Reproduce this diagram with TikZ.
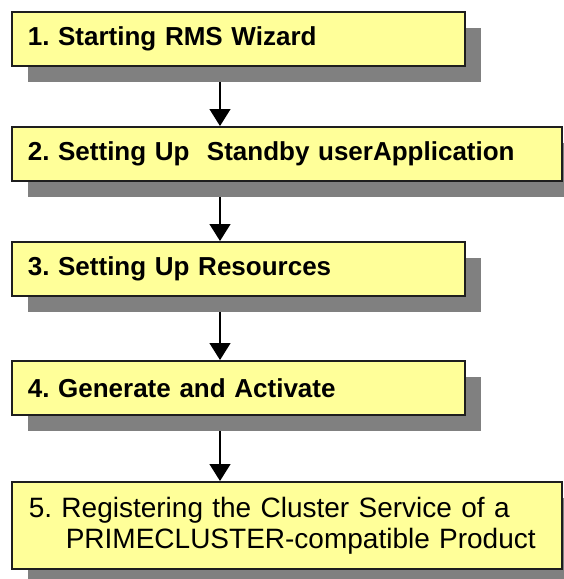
\documentclass[tikz,border=0pt]{standalone}
\usepackage{fontspec}
\setmainfont{Liberation Sans}
\usetikzlibrary{arrows.meta,shadows,backgrounds}
\definecolor{boxfill}{RGB}{255,255,153}
\definecolor{shadowgray}{RGB}{128,128,128}
\definecolor{boxline}{RGB}{30,30,30}
\frenchspacing
\tikzset{
  stepbox/.style={draw=boxline, line width=1.6pt, fill=boxfill, anchor=north west,
    rectangle, inner xsep=16pt, inner ysep=0pt, align=left,
    minimum height=54pt,
    drop shadow={shadow xshift=16pt, shadow yshift=-16pt, fill=shadowgray, opacity=1},
    font=\fontsize{26}{30}\selectfont\bfseries},
  narrowbox/.style={stepbox, minimum width=453pt, text width=421pt},
  widebox/.style={stepbox, minimum width=550pt, text width=518pt},
  flowarrow/.style={draw=black, line width=1.3pt, -{Triangle[length=17pt,width=21pt]}}
}
\begin{document}
\begin{tikzpicture}[x=1pt,y=-1pt]
\useasboundingbox (0,0) rectangle (564,579);
\node[narrowbox] (b1) at (11,11) {1. Starting RMS Wizard};
\node[widebox] (b2) at (11,126) {2. Setting Up\ \ Standby userApplication};
\node[narrowbox] (b3) at (11,241) {3. Setting Up Resources};
\node[narrowbox] (b4) at (11,360) {4. Generate and Activate};
\node[widebox, minimum height=87pt, inner xsep=17pt, text width=516pt,
      font=\fontsize{28}{31}\selectfont] (b5) at (11,481)
  {5. Registering the Cluster Service of a\\\hspace*{37pt}PRIMECLUSTER-compatible Product};
\coordinate (ax) at (220,0);
\begin{scope}[on background layer]
\draw[flowarrow] (b1.south -| ax) -- (b2.north -| ax);
\draw[flowarrow] (b2.south -| ax) -- (b3.north -| ax);
\draw[flowarrow] (b3.south -| ax) -- (b4.north -| ax);
\draw[flowarrow] (b4.south -| ax) -- (b5.north -| ax);
\end{scope}
\end{tikzpicture}
\end{document}
